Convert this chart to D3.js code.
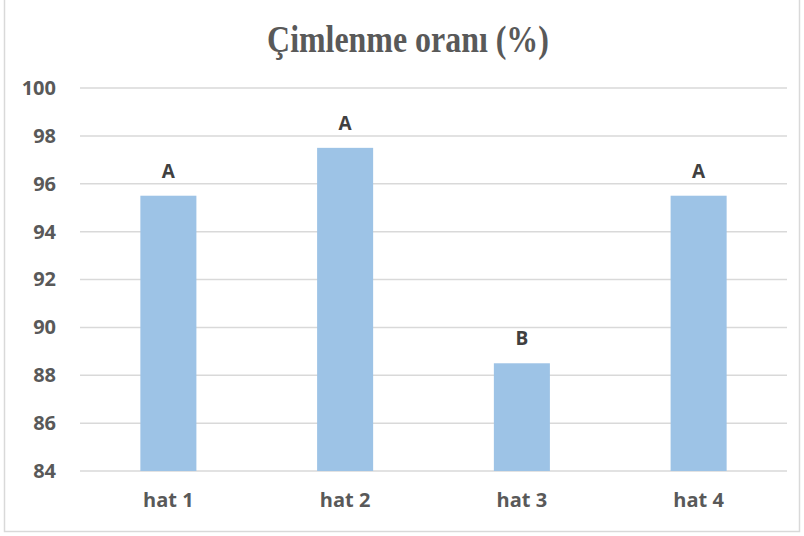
<!DOCTYPE html>
<html>
<head>
<meta charset="utf-8">
<script src="https://cdn.jsdelivr.net/npm/d3@7"></script>
<style>
  html, body { margin: 0; padding: 0; background: #fff; }
  svg { display: block; }
</style>
</head>
<body>
<svg id="chart" width="804" height="536"></svg>
<script>
// Germination rate per line, with significance-group letters
const categories = ["hat 1", "hat 2", "hat 3", "hat 4"];
const values = [95.5, 97.5, 88.5, 95.5];
const groupLetters = ["A", "A", "B", "A"];
const yTicks = [84, 86, 88, 90, 92, 94, 96, 98, 100];
const titleText = "Çimlenme oranı (%)";

const svg = d3.select("#chart");
const W = 804, H = 536;
const margin = { left: 80, right: 17, top: 88, bottom: 65 };

// outer chart frame
svg.append("rect")
  .attr("x", 4.5).attr("y", -2)
  .attr("width", 795).attr("height", 533.5)
  .attr("fill", "#fff")
  .attr("stroke", "#d9d9d9").attr("stroke-width", 1.5);

const x = d3.scaleBand()
  .domain(categories)
  .range([margin.left, W - margin.right])
  .paddingInner(0.683)
  .paddingOuter(0.3415);

const y = d3.scaleLinear()
  .domain([84, 100])
  .range([H - margin.bottom, margin.top]);

// horizontal gridlines
svg.append("g")
  .selectAll("line")
  .data(yTicks)
  .join("line")
  .attr("x1", margin.left).attr("x2", W - margin.right)
  .attr("y1", d => y(d)).attr("y2", d => y(d))
  .attr("stroke", "#d9d9d9").attr("stroke-width", 1.5);

// y axis labels
const yAxis = d3.axisLeft(y).tickValues(yTicks).tickSize(0).tickPadding(24);
const gy = svg.append("g")
  .attr("transform", `translate(${margin.left},0)`)
  .call(yAxis);
gy.select(".domain").remove();
gy.selectAll("text")
  .attr("font-family", "'Open Sans', sans-serif")
  .attr("font-weight", "bold")
  .attr("font-size", 20)
  .attr("fill", "#595959");

// bars
svg.append("g")
  .selectAll("rect")
  .data(values)
  .join("rect")
  .attr("x", (d, i) => x(categories[i]))
  .attr("width", x.bandwidth())
  .attr("y", d => y(d))
  .attr("height", d => y(84) - y(d))
  .attr("fill", "#9dc3e6");

// group letters above bars
svg.append("g")
  .selectAll("text")
  .data(values)
  .join("text")
  .attr("x", (d, i) => x(categories[i]) + x.bandwidth() / 2)
  .attr("y", d => y(d) - 18)
  .attr("text-anchor", "middle")
  .attr("font-family", "'Open Sans', sans-serif")
  .attr("font-weight", "bold")
  .attr("font-size", 19)
  .attr("fill", "#404040")
  .text((d, i) => groupLetters[i]);

// x axis labels
const xAxis = d3.axisBottom(x).tickSize(0).tickPadding(22);
const gx = svg.append("g")
  .attr("transform", `translate(0,${H - margin.bottom})`)
  .call(xAxis);
gx.select(".domain").remove();
gx.selectAll("text")
  .attr("font-family", "'Open Sans', sans-serif")
  .attr("font-weight", "bold")
  .attr("font-size", 20)
  .attr("fill", "#595959");

// title
svg.append("text")
  .attr("transform", "translate(408,52) scale(0.84,1)")
  .attr("text-anchor", "middle")
  .attr("font-family", "'Liberation Serif', 'Times New Roman', serif")
  .attr("font-weight", "bold")
  .attr("font-size", 38)
  .attr("fill", "#595959")
  .text(titleText);
</script>
</body>
</html>
